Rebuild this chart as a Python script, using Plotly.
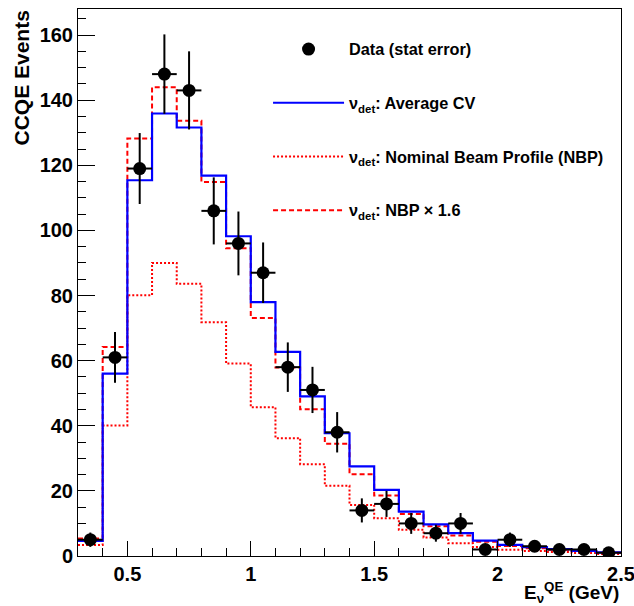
import plotly.graph_objects as go

# ---- data ----
bin_edges = [0.3, 0.4, 0.5, 0.6, 0.7, 0.8, 0.9, 1.0, 1.1, 1.2, 1.3, 1.4,
             1.5, 1.6, 1.7, 1.8, 1.9, 2.0, 2.1, 2.2, 2.3, 2.4, 2.5]
bin_centers = [0.35, 0.45, 0.55, 0.65, 0.75, 0.85, 0.95, 1.05, 1.15, 1.25, 1.35,
               1.45, 1.55, 1.65, 1.75, 1.85, 1.95, 2.05, 2.15, 2.25, 2.35, 2.45]
data_counts = [5, 61, 119, 148, 143, 106, 96, 87, 58, 51, 38,
               14, 16, 10, 7, 10, 2, 5, 3, 2, 2, 1]
data_err = [2.2, 7.8, 10.9, 12.2, 12.0, 10.3, 9.8, 9.3, 7.6, 7.1, 6.2,
            3.7, 4.0, 3.2, 2.6, 3.2, 1.4, 2.2, 1.7, 1.4, 1.4, 1.0]
bin_half_width = [0.05] * 22
avg_cv = [4.6, 56.0, 115.4, 135.9, 131.6, 116.8, 98.2, 78.0, 62.7, 49.0, 37.7,
          27.5, 20.3, 13.6, 9.7, 7.0, 4.7, 3.4, 2.7, 2.1, 1.6, 1.1]
nbp = [3.4, 40.1, 80.1, 90.0, 83.6, 71.8, 59.1, 45.7, 36.2, 28.2, 21.6,
       15.7, 11.6, 8.1, 5.7, 3.9, 2.75, 1.95, 1.5, 1.2, 0.95, 0.65]
nbp_x16 = [5.4, 64.2, 128.2, 144.0, 133.7, 114.9, 94.5, 73.1, 57.9, 45.1, 34.5,
           25.1, 18.6, 12.9, 9.1, 6.3, 4.4, 3.1, 2.4, 1.9, 1.5, 1.0]

x_tickvals = [0.5, 1.0, 1.5, 2.0, 2.5]
x_ticktext = ["0.5", "1", "1.5", "2", "2.5"]
y_tickvals = [0, 20, 40, 60, 80, 100, 120, 140, 160]
y_ticktext = ["0", "20", "40", "60", "80", "100", "120", "140", "160"]

FONT = "Liberation Sans"

def step_y(vals):
    return list(vals) + [vals[-1]]

fig = go.Figure()

fig.add_trace(go.Scatter(
    x=bin_edges, y=step_y(nbp), mode="lines", line_shape="hv",
    line=dict(color="#ff0000", width=2, dash="2px,2px"),
    name="ν<sub>det</sub>: Nominal Beam Profile (NBP)",
    legendgroup="c", legendrank=3))
fig.add_trace(go.Scatter(
    x=bin_edges, y=step_y(nbp_x16), mode="lines", line_shape="hv",
    line=dict(color="#ff0000", width=2, dash="5px,3px"),
    name="ν<sub>det</sub>: NBP × 1.6",
    legendgroup="d", legendrank=4))
fig.add_trace(go.Scatter(
    x=bin_edges, y=step_y(avg_cv), mode="lines", line_shape="hv",
    line=dict(color="#0000ff", width=2.2),
    name="ν<sub>det</sub>: Average CV",
    legendgroup="b", legendrank=2))
fig.add_trace(go.Scatter(
    x=bin_centers, y=data_counts, mode="markers",
    marker=dict(color="black", size=13, symbol="circle"),
    error_y=dict(type="data", array=data_err, color="black", thickness=2, width=0),
    error_x=dict(type="data", array=bin_half_width, color="black", thickness=2, width=0),
    name="Data (stat error)",
    legendgroup="a", legendrank=1))

axis_common = dict(
    showline=True, linecolor="black", linewidth=1, mirror=True,
    ticks="inside", tickcolor="black", showgrid=False, zeroline=False,
    ticklabeloverflow="allow", automargin=False,
    tickfont=dict(family=FONT, size=20, color="black", weight="bold"),
)

fig.update_xaxes(
    range=[0.3, 2.5], tickvals=x_tickvals, ticktext=x_ticktext,
    ticklen=15, tickwidth=1,
    minor=dict(ticks="inside", ticklen=8, dtick=0.1, tick0=0.3, tickcolor="black", showgrid=False),
    **axis_common)
fig.update_yaxes(
    range=[0, 168], tickvals=y_tickvals, ticktext=y_ticktext,
    ticklen=17, tickwidth=1,
    minor=dict(ticks="inside", ticklen=8, dtick=5, tick0=0, tickcolor="black", showgrid=False),
    **axis_common)

fig.update_layout(
    width=634, height=606,
    margin=dict(l=78, r=13, t=9, b=50),
    paper_bgcolor="white", plot_bgcolor="white",
    font=dict(family=FONT, color="black"),
    showlegend=True,
    legend=dict(
        x=0.35, y=0.958, xanchor="left", yanchor="top",
        font=dict(family=FONT, size=16.3, color="black", weight="bold"),
        bgcolor="rgba(0,0,0,0)", borderwidth=0,
        tracegroupgap=29.5, itemwidth=71, traceorder="grouped",
    ),
    annotations=[
        dict(text="E<sub>ν</sub><sup>QE</sup> (GeV)", xref="paper", yref="paper",
             x=1, y=0, xanchor="right", yanchor="middle", yshift=-36,
             showarrow=False, font=dict(family=FONT, size=19, color="black", weight="bold")),
        dict(text="CCQE Events", xref="paper", yref="paper", textangle=-90,
             x=0, y=1, xanchor="center", yanchor="top", xshift=-57, yshift=0,
             showarrow=False, font=dict(family=FONT, size=21, color="black", weight="bold")),
    ],
)

fig.write_html("out.html")
